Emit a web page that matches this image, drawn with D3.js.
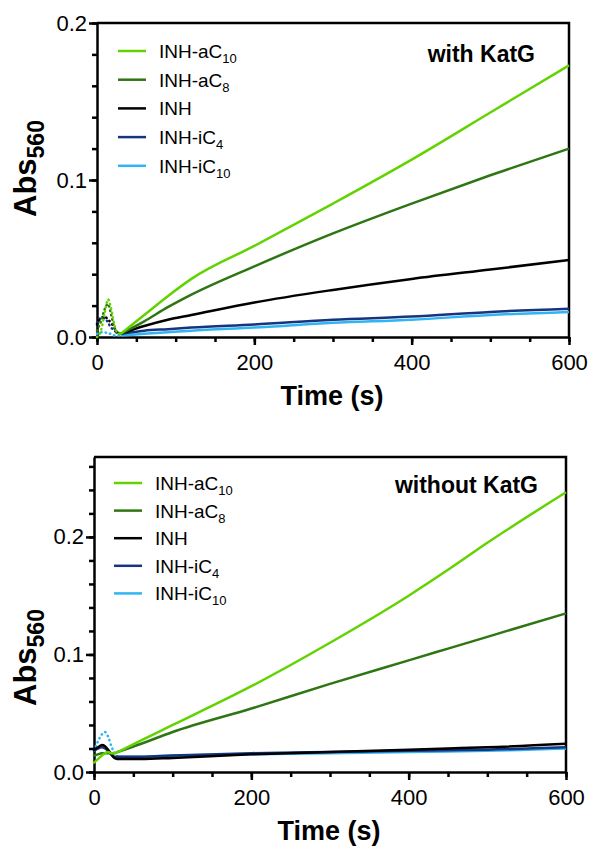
<!DOCTYPE html>
<html lang="en">
<head>
<meta charset="utf-8">
<title>Abs560 vs time</title>
<script src="https://cdnjs.cloudflare.com/ajax/libs/d3/7.8.5/d3.min.js"></script>
<style>
  body { margin: 0; background: #fff; }
  svg { display: block; font-family: "Liberation Sans", Arial, sans-serif; }
  .domain, .tick line { stroke: #000; stroke-width: 2.5px; }
  .tick text { font-size: 22px; fill: #000; }
</style>
</head>
<body>
<svg id="chart" width="590" height="847"></svg>
<script>
// series info (legend order)
const legendBase = ["INH-aC", "INH-aC", "INH", "INH-iC", "INH-iC"];
const legendSub = ["10", "8", "", "4", "10"];
const seriesColors = ["#62d300", "#2d7613", "#000000", "#16357e", "#31b4f3"];

// with KatG
const withTimeEarly = [0, 5, 10, 14, 18, 22, 26, 30];
const withEarly = [
  [0.000, 0.004, 0.016, 0.024, 0.018, 0.008, 0.003, 0.002],
  [0.004, 0.010, 0.018, 0.021, 0.014, 0.006, 0.002, 0.002],
  [0.008, 0.012, 0.013, 0.011, 0.009, 0.006, 0.003, 0.002],
  [0.009, 0.012, 0.012, 0.009, 0.006, 0.004, 0.003, 0.002],
  [0.002, 0.003, 0.003, 0.002, 0.002, 0.001, 0.001, 0.001]
];
const withTimeMain = [30, 60, 90, 120, 200, 300, 400, 500, 600];
const withMain = [
  [0.002, 0.014, 0.026, 0.037, 0.058, 0.085, 0.113, 0.143, 0.173],
  [0.002, 0.010, 0.019, 0.027, 0.045, 0.066, 0.085, 0.103, 0.120],
  [0.002, 0.007, 0.011, 0.014, 0.022, 0.030, 0.037, 0.043, 0.049],
  [0.002, 0.004, 0.005, 0.006, 0.008, 0.011, 0.013, 0.016, 0.018],
  [0.001, 0.002, 0.003, 0.004, 0.006, 0.009, 0.011, 0.014, 0.016]
];
const withDotted = [true, true, true, true, true];

// without KatG
const withoutTimeEarly = [0, 5, 10, 14, 18, 22, 26, 30];
const withoutEarly = [
  [0.008, 0.011, 0.014, 0.016, 0.017, 0.016, 0.016, 0.017],
  [0.014, 0.015, 0.016, 0.016, 0.016, 0.016, 0.016, 0.017],
  [0.019, 0.021, 0.023, 0.022, 0.019, 0.015, 0.012, 0.011],
  [0.018, 0.020, 0.021, 0.020, 0.018, 0.015, 0.013, 0.013],
  [0.018, 0.026, 0.032, 0.034, 0.030, 0.022, 0.016, 0.013]
];
const withoutTimeMain = [30, 60, 100, 200, 300, 400, 450, 500, 600];
const withoutMain = [
  [0.017, 0.027, 0.040, 0.073, 0.110, 0.150, 0.172, 0.195, 0.238],
  [0.017, 0.024, 0.034, 0.054, 0.075, 0.095, 0.105, 0.115, 0.135],
  [0.011, 0.011, 0.012, 0.015, 0.017, 0.019, 0.020, 0.021, 0.024],
  [0.013, 0.013, 0.014, 0.016, 0.017, 0.018, 0.0185, 0.019, 0.021],
  [0.013, 0.013, 0.014, 0.015, 0.016, 0.017, 0.0175, 0.018, 0.020]
];
const withoutDotted = [false, false, false, false, true];

const xMajor = [0, 200, 400, 600];
const yMajor = [0, 0.1, 0.2];

const svg = d3.select("#chart");

function drawPanel(p) {
  const x = d3.scaleLinear().domain([0, 600]).range([p.left, p.right]);
  const y = d3.scaleLinear().domain([0, p.yMax]).range([p.bottom, p.top]);
  const g = svg.append("g");

  // frame top/right
  g.append("path")
    .attr("d", `M${p.left},${p.top}H${p.right}V${p.bottom}`)
    .attr("fill", "none").attr("stroke", "#000").attr("stroke-width", 2.5);

  // minor ticks
  g.append("g").attr("transform", `translate(0,${p.bottom})`)
    .call(d3.axisBottom(x).tickValues(d3.range(0, 601, 50)).tickSize(5).tickFormat(""))
    .select(".domain").remove();
  g.append("g").attr("transform", `translate(${p.left},0)`)
    .call(d3.axisLeft(y).tickValues(d3.range(0, p.yMax + 0.001, 0.02)).tickSize(5).tickFormat(""))
    .select(".domain").remove();

  // major axes
  g.append("g").attr("transform", `translate(0,${p.bottom})`)
    .call(d3.axisBottom(x).tickValues(xMajor).tickSize(8).tickSizeOuter(0).tickPadding(5))
    .selectAll(".tick text").attr("dy", "0.9em");
  g.append("g").attr("transform", `translate(${p.left},0)`)
    .call(d3.axisLeft(y).tickValues(yMajor.filter(v => v <= p.yMax)).tickSize(8).tickSizeOuter(0).tickPadding(2)
      .tickFormat(d3.format(".1f")));

  // lines, drawn back to front
  const line = d3.line().x(d => x(d[0])).y(d => y(d[1])).curve(d3.curveMonotoneX);
  for (let i = seriesColors.length - 1; i >= 0; i--) {
    const early = p.timeEarly.map((t, j) => [t, p.early[i][j]]);
    const main = p.timeMain.map((t, j) => [t, p.main[i][j]]);
    g.append("path").attr("d", line(early))
      .attr("fill", "none").attr("stroke", seriesColors[i])
      .attr("stroke-width", 2.5).attr("stroke-linecap", "round")
      .attr("stroke-dasharray", p.dotted[i] ? "0.5,4" : null);
    g.append("path").attr("d", line(main))
      .attr("fill", "none").attr("stroke", seriesColors[i])
      .attr("stroke-width", 2.5);
  }

  // legend
  legendBase.forEach((b, i) => {
    const ly = p.legY + i * p.legStep;
    g.append("line").attr("x1", p.legX).attr("x2", p.legX + 28)
      .attr("y1", ly).attr("y2", ly)
      .attr("stroke", seriesColors[i]).attr("stroke-width", 2.5);
    const t = g.append("text").attr("x", p.legX + 41).attr("y", ly + 7)
      .attr("font-size", 19);
    t.append("tspan").text(b);
    if (legendSub[i]) t.append("tspan").attr("font-size", 13).attr("dy", 5).text(legendSub[i]);
  });

  // panel title
  g.append("text").attr("x", p.titleX).attr("y", p.titleY)
    .attr("text-anchor", "end").attr("font-size", 23).attr("font-weight", "bold")
    .text(p.title);

  // axis titles
  g.append("text").attr("x", (p.left + p.right) / 2 - 1).attr("y", p.bottom + 68)
    .attr("text-anchor", "middle").attr("font-size", 27).attr("font-weight", "bold")
    .text("Time (s)");
  const yl = g.append("text")
    .attr("transform", `translate(36,${p.yLabelStart}) rotate(-90)`)
    .attr("font-size", 31).attr("font-weight", "bold");
  yl.append("tspan").text("Abs");
  yl.append("tspan").attr("font-size", 23).attr("dy", 8).text("560");
}

drawPanel({
  left: 97, right: 569, top: 23, bottom: 337, yMax: 0.2,
  timeEarly: withTimeEarly, early: withEarly, timeMain: withTimeMain, main: withMain,
  dotted: withDotted, legX: 118, legY: 51, legStep: 28.7,
  title: "with KatG", titleX: 535, titleY: 62, yLabelStart: 217
});
drawPanel({
  left: 94, right: 566, top: 457, bottom: 772, yMax: 0.268,
  timeEarly: withoutTimeEarly, early: withoutEarly, timeMain: withoutTimeMain, main: withoutMain,
  dotted: withoutDotted, legX: 114, legY: 483, legStep: 27.6,
  title: "without KatG", titleX: 538, titleY: 493, yLabelStart: 706
});
</script>
</body>
</html>
